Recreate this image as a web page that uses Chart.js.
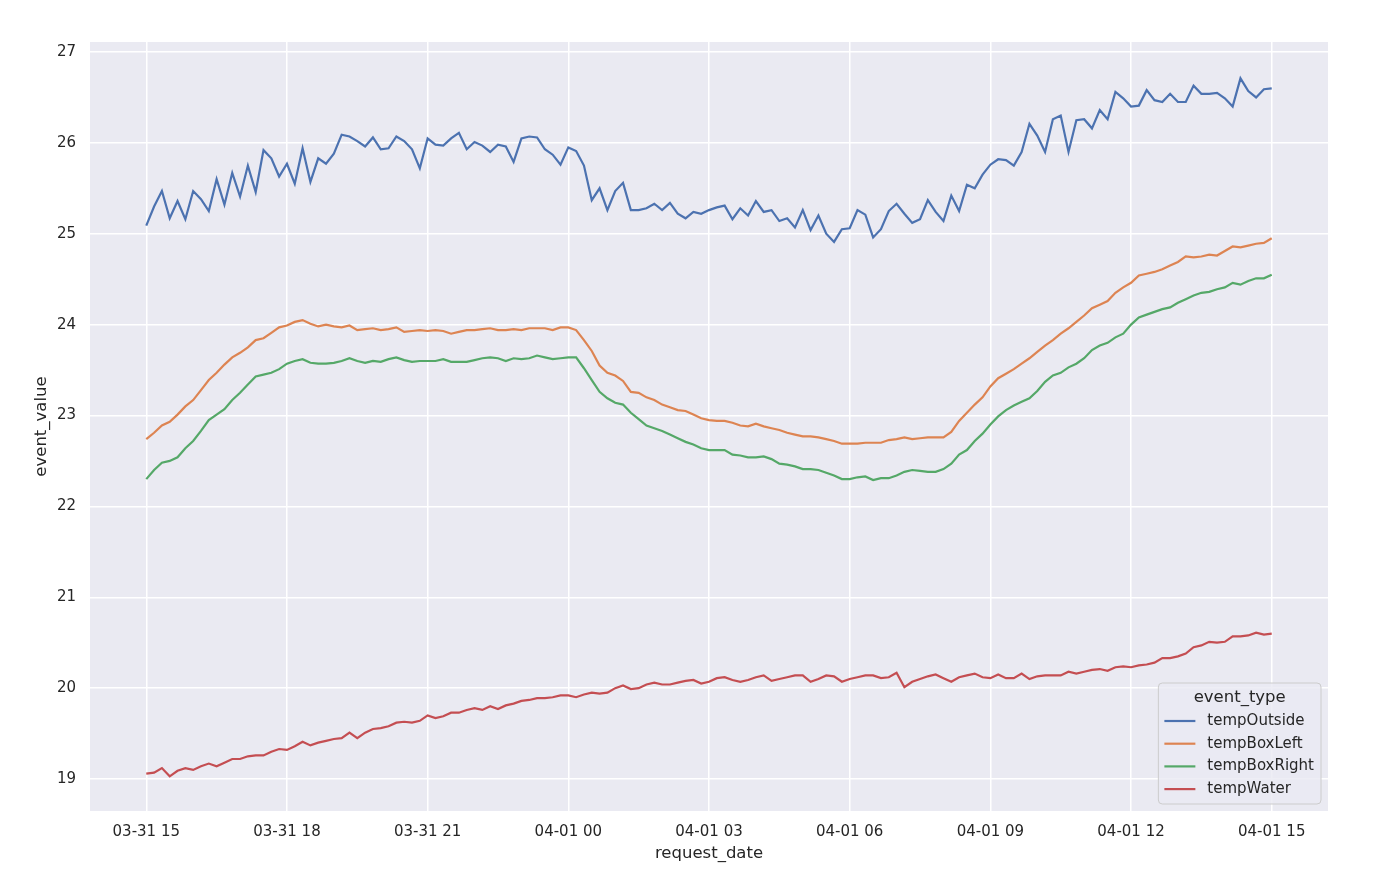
<!DOCTYPE html>
<html><head><meta charset="utf-8">
<script src="https://cdn.jsdelivr.net/npm/chart.js@4/dist/chart.umd.min.js"></script>
<style>html,body{margin:0;padding:0;background:#fff;} #wrap{width:1390px;height:869px;}</style>
</head><body><div id="wrap"><canvas id="c" width="1390" height="869"></canvas></div>
<script>
// ---- data (10-minute samples starting 03-31 15:00) ----
const seriesNames = ['tempOutside', 'tempBoxLeft', 'tempBoxRight', 'tempWater'];
const sampleMinutes = 10;

const tempOutside = [25.09,25.30,25.47,25.17,25.36,25.16,25.47,25.38,25.25,25.60,
25.32,25.67,25.41,25.75,25.46,25.92,25.83,25.63,25.77,25.55,
25.94,25.57,25.83,25.77,25.88,26.09,26.07,26.02,25.96,26.06,
25.93,25.94,26.07,26.02,25.93,25.72,
26.05,25.98,25.97,26.05,26.11,25.93,26.01,25.97,25.90,25.98,25.96,25.79,26.05,26.07,26.06,25.93,25.87,25.76,25.95,25.91,25.75,25.37,25.50,25.26,25.47,25.56,25.26,25.26,25.28,25.33,25.26,25.34,25.22,25.17,25.24,25.22,25.26,
25.29,25.31,25.16,25.28,25.20,25.36,25.24,25.26,25.14,25.17,25.07,25.26,25.04,25.20,25.00,24.91,25.05,25.06,25.26,25.21,24.96,25.05,25.25,25.33,25.22,25.12,25.16,25.37,25.24,25.14,25.42,25.25,25.54,25.50,25.65,25.76,
25.82,25.81,25.75,25.90,26.21,26.08,25.90,26.26,26.30,25.90,26.25,26.26,26.16,26.36,26.26,26.56,26.49,26.40,26.41,26.58,26.47,26.45,26.54,26.45,26.45,26.63,26.54,26.54,26.55,26.49,26.40,26.71,26.57,26.50,26.59,26.60];

const tempBoxLeft = [22.74,22.81,22.89,22.93,23.01,23.10,23.17,23.28,23.39,23.47,
23.56,23.64,23.69,23.75,23.83,23.85,23.91,23.97,23.99,24.03,
24.05,24.01,23.98,24.00,23.98,23.97,23.99,23.94,23.95,23.96,
23.94,23.95,23.97,23.92,23.93,23.94,23.93,23.94,23.93,23.90,
23.92,23.94,23.94,
23.95,23.96,23.94,23.94,23.95,23.94,23.96,23.96,23.96,23.94,23.97,23.97,23.94,23.83,23.71,23.55,23.47,23.44,23.38,23.26,23.25,23.20,23.17,23.12,23.09,23.06,23.05,23.01,22.97,22.95,22.94,22.94,22.92,22.89,22.88,22.91,22.88,22.86,22.84,22.81,22.79,22.77,22.77,22.76,22.74,22.72,22.69,22.69,
22.69,22.70,22.70,22.70,22.73,22.74,22.76,22.74,22.75,22.76,22.76,22.76,22.82,22.94,23.03,23.12,23.20,23.32,23.41,23.46,23.51,23.57,23.63,23.70,23.77,23.83,23.90,23.96,24.03,24.10,24.18,24.22,24.26,24.35,24.41,24.46,24.54,24.56,24.58,24.61,24.65,24.69,24.75,24.74,24.75,24.77,24.76,24.81,24.86,24.85,24.87,24.89,24.90,24.95];

const tempBoxRight = [22.30,22.40,22.48,22.50,22.54,22.64,22.72,22.83,22.95,23.01,
23.07,23.17,23.25,23.34,23.43,23.45,23.47,23.51,23.57,23.60,
23.62,23.58,23.57,23.57,23.58,23.60,23.63,23.60,23.58,23.60,
23.59,23.62,23.64,23.61,23.59,23.60,23.60,23.60,23.62,23.59,
23.59,23.59,23.61,
23.63,23.64,23.63,23.60,23.63,23.62,23.63,23.66,23.64,23.62,23.63,23.64,23.64,23.52,23.39,23.26,23.19,23.14,23.12,23.03,22.96,22.89,22.86,22.83,22.79,22.75,22.71,22.68,22.64,22.62,22.62,22.62,22.57,22.56,22.54,22.54,22.55,22.52,22.47,22.46,22.44,22.41,22.41,22.40,22.37,22.34,22.30,22.30,
22.32,22.33,22.29,22.31,22.31,22.34,22.38,22.40,22.39,22.38,22.38,22.41,22.47,22.57,22.62,22.72,22.80,22.90,22.99,23.06,23.11,23.15,23.19,23.27,23.37,23.44,23.47,23.53,23.57,23.63,23.72,23.77,23.80,23.86,23.90,24.00,24.08,24.11,24.14,24.17,24.19,24.24,24.28,24.32,24.35,24.36,24.39,24.41,24.46,24.44,24.48,24.51,24.51,24.55];

const tempWater = [19.06,19.07,19.12,19.03,19.09,19.12,19.10,19.14,19.17,19.14,
19.18,19.22,19.22,19.25,19.26,19.26,19.30,19.33,19.32,19.36,
19.41,19.37,19.40,19.42,19.44,19.45,19.51,19.45,19.51,19.55,
19.56,19.58,19.62,19.63,19.62,19.64,19.70,19.67,19.69,19.73,
19.73,19.76,19.78,19.76,19.80,19.77,19.81,19.83,19.86,19.87,
19.89,19.89,19.90,19.92,19.92,19.90,19.93,19.95,19.94,19.95,
20.00,20.03,19.99,20.00,20.04,20.06,20.04,20.04,20.06,20.08,20.09,20.05,
20.07,20.11,20.12,20.09,20.07,20.09,20.12,20.14,20.08,20.10,
20.12,20.14,20.14,20.07,20.10,20.14,20.13,20.07,20.10,20.12,
20.14,20.14,20.11,20.12,20.17,20.01,20.07,20.10,20.13,20.15,
20.11,20.07,20.12,20.14,20.16,20.12,20.11,20.15,20.11,20.11,
20.16,20.10,20.13,20.14,20.14,20.14,20.18,20.16,20.18,20.20,
20.21,20.19,20.23,20.24,20.23,20.25,20.26,20.28,20.33,20.33,
20.35,20.38,20.45,20.47,20.51,20.50,20.51,20.57,20.57,20.58,
20.61,20.59,20.60];

const xTickHours = [0, 3, 6, 9, 12, 15, 18, 21, 24];
const xTickLabels = ['03-31 15','03-31 18','03-31 21','04-01 00','04-01 03','04-01 06','04-01 09','04-01 12','04-01 15'];
const yTickValues = [19, 20, 21, 22, 23, 24, 25, 26, 27];
const seriesColors = ['#4c72b0', '#dd8452', '#55a868', '#c44e52'];

// ---- chart ----
const allSeries = [tempOutside, tempBoxLeft, tempBoxRight, tempWater];
function toPoints(arr) { return arr.map((v, i) => ({ x: i * sampleMinutes / 60, y: v })); }

const FONT = "'DejaVu Sans', 'Liberation Sans', sans-serif";
const TEXT = '#262626';

const bgPlugin = {
  id: 'bg',
  beforeDraw(chart) {
    const { ctx, chartArea: a } = chart;
    ctx.save();
    ctx.fillStyle = '#ffffff';
    ctx.fillRect(0, 0, chart.width, chart.height);
    ctx.fillStyle = '#eaeaf2';
    ctx.fillRect(a.left, a.top, a.right - a.left, a.bottom - a.top);
    ctx.restore();
  }
};

const legendPlugin = {
  id: 'sbLegend',
  afterDraw(chart) {
    const { ctx, chartArea: a } = chart;
    const ds = chart.data.datasets;
    ctx.save();
    ctx.font = '15px ' + FONT;
    let maxW = 0;
    ds.forEach(d => { maxW = Math.max(maxW, ctx.measureText(d.label).width); });
    const w = 6 + 31 + 12 + maxW + 7;
    const h = 121;
    const left = a.right - 7 - w;
    const top = a.bottom - 7 - h;
    const r = 4;
    ctx.beginPath();
    ctx.moveTo(left + r, top);
    ctx.lineTo(left + w - r, top);
    ctx.quadraticCurveTo(left + w, top, left + w, top + r);
    ctx.lineTo(left + w, top + h - r);
    ctx.quadraticCurveTo(left + w, top + h, left + w - r, top + h);
    ctx.lineTo(left + r, top + h);
    ctx.quadraticCurveTo(left, top + h, left, top + h - r);
    ctx.lineTo(left, top + r);
    ctx.quadraticCurveTo(left, top, left + r, top);
    ctx.closePath();
    ctx.fillStyle = 'rgba(234,234,242,0.8)';
    ctx.fill();
    ctx.strokeStyle = '#cccccc';
    ctx.lineWidth = 1;
    ctx.stroke();
    ctx.fillStyle = TEXT;
    ctx.textBaseline = 'middle';
    ctx.textAlign = 'center';
    ctx.font = '16.5px ' + FONT;
    ctx.fillText('event_type', left + w / 2, top + 15);
    ctx.font = '15px ' + FONT;
    ctx.textAlign = 'left';
    ds.forEach((d, i) => {
      const y = top + 38 + i * 22.7;
      ctx.strokeStyle = d.borderColor;
      ctx.lineWidth = 2.2;
      ctx.beginPath();
      ctx.moveTo(left + 6, y);
      ctx.lineTo(left + 37, y);
      ctx.stroke();
      ctx.fillStyle = TEXT;
      ctx.fillText(d.label, left + 49, y);
    });
    ctx.restore();
  }
};

new Chart(document.getElementById('c'), {
  type: 'line',
  data: {
    datasets: allSeries.map((arr, k) => ({
      label: seriesNames[k],
      data: toPoints(arr),
      borderColor: seriesColors[k],
      backgroundColor: seriesColors[k],
      borderWidth: 2.2,
      pointRadius: 0,
      tension: 0,
      fill: false
    }))
  },
  options: {
    responsive: false,
    animation: false,
    devicePixelRatio: 1,
    layout: { padding: { top: 42, right: 62, left: 0, bottom: 0 } },
    plugins: { legend: { display: false }, tooltip: { enabled: false } },
    scales: {
      x: {
        type: 'linear',
        min: -1.2, max: 25.2,
        afterBuildTicks: s => { s.ticks = xTickHours.map(v => ({ value: v })); },
        afterFit: s => { s.height = 58; },
        ticks: {
          callback: v => xTickLabels[xTickHours.indexOf(v)],
          padding: 12, autoSkip: false, maxRotation: 0,
          color: TEXT, font: { size: 15, family: FONT }
        },
        grid: { color: '#ffffff', lineWidth: 1.5, drawTicks: false },
        border: { display: false },
        title: { display: true, text: 'request_date', color: TEXT,
          font: { size: 16.5, family: FONT }, padding: { top: 0, bottom: 5 } }
      },
      y: {
        type: 'linear',
        min: 18.648, max: 27.11,
        afterBuildTicks: s => { s.ticks = yTickValues.map(v => ({ value: v })); },
        afterFit: s => { s.width = 90; },
        ticks: { padding: 14, color: TEXT, font: { size: 15, family: FONT } },
        grid: { color: '#ffffff', lineWidth: 1.5, drawTicks: false },
        border: { display: false },
        title: { display: true, text: 'event_value', color: TEXT,
          font: { size: 16.5, family: FONT }, padding: { top: 32, bottom: 0 } }
      }
    }
  },
  plugins: [bgPlugin, legendPlugin]
});
</script>
</body></html>
